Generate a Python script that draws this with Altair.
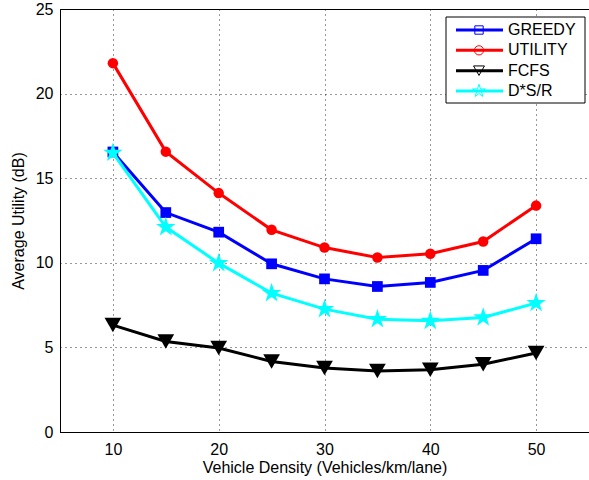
import altair as alt
import pandas as pd

# ---- data ----
density = [10, 15, 20, 25, 30, 35, 40, 45, 50]
greedy = [16.55, 12.97, 11.81, 9.94, 9.05, 8.60, 8.84, 9.55, 11.42]
utility = [21.8, 16.57, 14.12, 11.95, 10.90, 10.31, 10.53, 11.26, 13.38]
fcfs = [6.32, 5.35, 4.96, 4.17, 3.78, 3.60, 3.68, 4.00, 4.67]
dsr = [16.5, 12.11, 9.98, 8.21, 7.26, 6.67, 6.57, 6.77, 7.62]

series_names = ["GREEDY", "UTILITY", "FCFS", "D*S/R"]
series_values = [greedy, utility, fcfs, dsr]
colors = ["#0000FF", "#FF0000", "#000000", "#00FFFF"]

star = ("M0,-1 L0.2245,-0.309 L0.951,-0.309 L0.363,0.118 L0.588,0.809 L0,0.382 "
        "L-0.588,0.809 L-0.363,0.118 L-0.951,-0.309 L-0.2245,-0.309 Z")
shapes = ["square", "circle", "triangle-down", star]

rows = []
for name, vals in zip(series_names, series_values):
    for x, v in zip(density, vals):
        rows.append({"density": x, "utility": v, "series": name})
df = pd.DataFrame(rows)
legend_df = pd.DataFrame({"series": series_names})

FONT = "Liberation Sans"
color_scale = alt.Scale(domain=series_names, range=colors)
shape_scale = alt.Scale(domain=series_names, range=shapes)

grid_kw = dict(grid=True, gridDash=[1, 4], gridColor="#000000", gridOpacity=0.8, ticks=False)
x_enc = alt.X("density:Q", scale=alt.Scale(domain=[5, 55], nice=False),
              axis=alt.Axis(values=[10, 20, 30, 40, 50], title="Vehicle Density (Vehicles/km/lane)",
                            labelPadding=9, titlePadding=2, **grid_kw))
y_enc = alt.Y("utility:Q", scale=alt.Scale(domain=[0, 25], nice=False),
              axis=alt.Axis(values=[0, 5, 10, 15, 20, 25], title="Average Utility (dB)",
                            labelPadding=7, titlePadding=9, **grid_kw))

lines = alt.Chart(df).mark_line(strokeWidth=3).encode(
    x=x_enc, y=y_enc,
    color=alt.Color("series:N", scale=color_scale, legend=None),
    detail="series:N",
)

points = alt.Chart(df).mark_point(filled=True, opacity=1, strokeWidth=1).encode(
    x=x_enc,
    y=alt.Y("utility:Q", scale=alt.Scale(domain=[0, 25], nice=False), axis=None),
    color=alt.Color("series:N", scale=color_scale, legend=None),
    shape=alt.Shape("series:N", scale=shape_scale, legend=None),
    size=alt.Size("series:N", scale=alt.Scale(type="ordinal", domain=series_names,
                                              range=[115, 110, 280, 420]), legend=None),
)

leg_y = alt.Y("series:N", sort=series_names,
              scale=alt.Scale(type="point", domain=series_names, range=[21, 82], padding=0),
              axis=None)

legend_box = alt.Chart(pd.DataFrame({"a": [0]})).mark_rect(
    fill="white", stroke="black", strokeWidth=1
).encode(x=alt.value(386), x2=alt.value(525), y=alt.value(8), y2=alt.value(94))

legend_lines = alt.Chart(legend_df).mark_rule(strokeWidth=3).encode(
    x=alt.value(396), x2=alt.value(443), y=leg_y,
    color=alt.Color("series:N", scale=color_scale, legend=None),
)

legend_points = alt.Chart(legend_df).mark_point(filled=False, opacity=1, strokeWidth=1).encode(
    x=alt.value(419), y=leg_y,
    color=alt.Color("series:N", scale=color_scale, legend=None),
    shape=alt.Shape("series:N", scale=shape_scale, legend=None),
    size=alt.Size("series:N", scale=alt.Scale(type="ordinal", domain=series_names,
                                              range=[70, 85, 120, 180]), legend=None),
)

legend_text = alt.Chart(legend_df).mark_text(
    align="left", baseline="middle", font=FONT, fontSize=16, color="black"
).encode(x=alt.value(448), y=leg_y, text="series:N")

chart = alt.layer(
    lines, points, legend_box, legend_lines, legend_points, legend_text
).resolve_scale(
    y="independent", size="independent"
).properties(
    width=529, height=423,
    padding={"left": 60, "top": 9, "right": 0, "bottom": 48},
    autosize=alt.AutoSizeParams(type="none"),
    background="white",
).configure_view(
    stroke="black", strokeWidth=1
).configure_axis(
    labelFont=FONT, titleFont=FONT, labelFontSize=16, titleFontSize=16,
    titleFontWeight="normal", labelColor="black", titleColor="black",
    domainColor="black", domainWidth=1,
)

chart.save("out.html", embed_options={"renderer": "svg", "actions": False})
